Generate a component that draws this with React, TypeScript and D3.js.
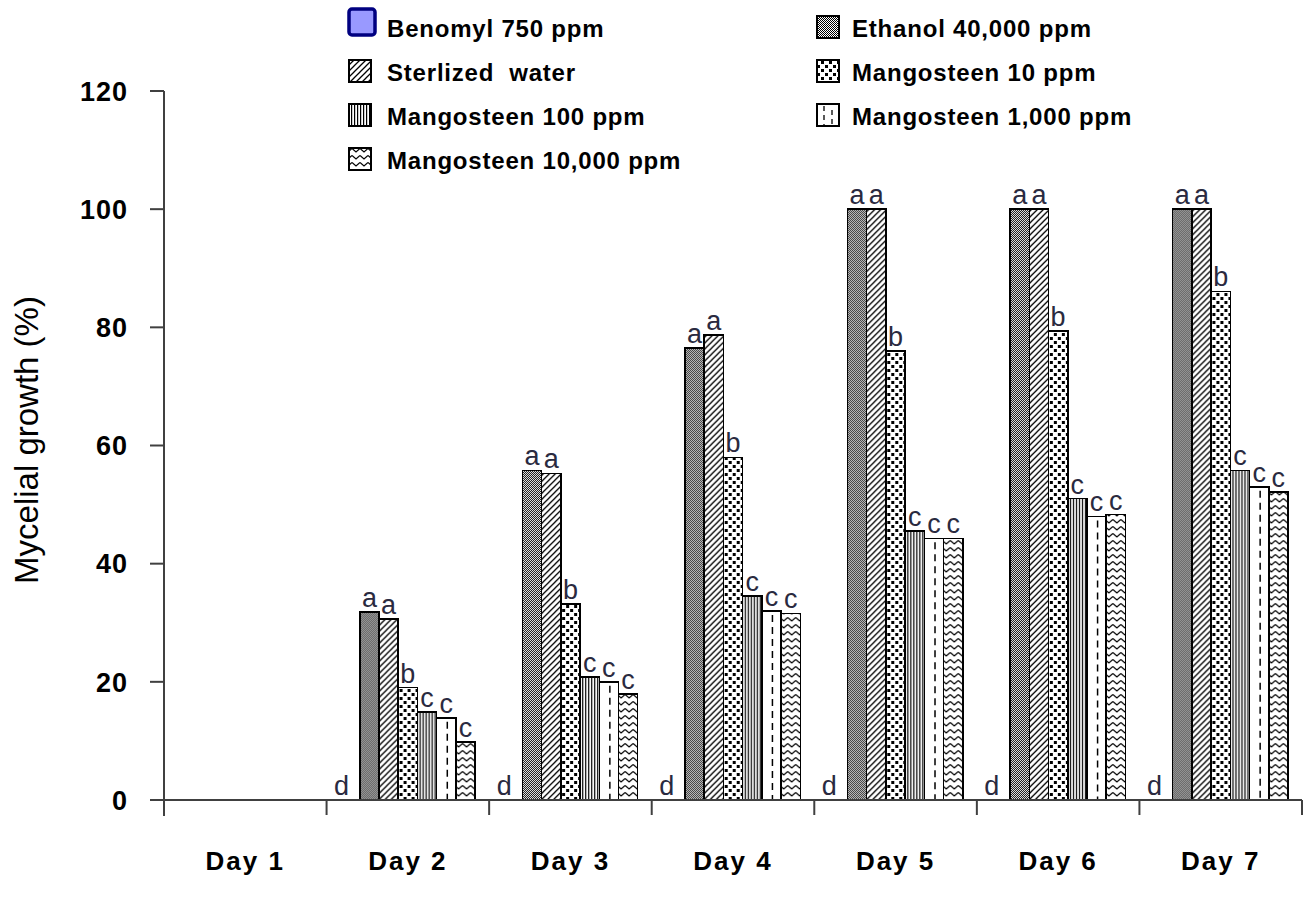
import React from "react";
import * as d3 from "d3";

// categories + series
const days = ["Day 1", "Day 2", "Day 3", "Day 4", "Day 5", "Day 6", "Day 7"];
const seriesNames = [
  "Benomyl 750 ppm",
  "Ethanol 40,000 ppm",
  "Sterlized  water",
  "Mangosteen 10 ppm",
  "Mangosteen 100 ppm",
  "Mangosteen 1,000 ppm",
  "Mangosteen 10,000 ppm",
];
const benomyl = [0, 0, 0, 0, 0, 0, 0];
const ethanol = [0, 31.8, 55.8, 76.5, 100, 100, 100];
const water = [0, 30.6, 55.3, 78.7, 100, 100, 100];
const mango10 = [0, 19.0, 33.2, 58.0, 76.0, 79.4, 86.1];
const mango100 = [0, 14.9, 20.8, 34.5, 45.5, 51.0, 55.8];
const mango1000 = [0, 13.9, 20.0, 32.0, 44.3, 48.0, 53.0];
const mango10000 = [0, 9.8, 17.9, 31.6, 44.3, 48.3, 52.1];
const letters = ["d", "a", "a", "b", "c", "c", "c"];
const yTicks = [0, 20, 40, 60, 80, 100, 120];

const seriesValues = [benomyl, ethanol, water, mango10, mango100, mango1000, mango10000];
const fills = ["#9999ff", "url(#pEth)", "url(#pWater)", "url(#pM10)", "url(#pM100)", "#fff", "url(#pM10000)"];

const W = 1308;
const H = 905;
const left = 164;
const right = 1302;
const top = 91;
const bottom = 800;

const axisColor = "#404040";
const letterColor = "#2a2a40";

export default function App() {
  const x = d3.scaleBand<string>().domain(days).range([left, right]).padding(0);
  const x1 = d3
    .scaleBand<number>()
    .domain(d3.range(seriesNames.length))
    .range([0, x.bandwidth()])
    .paddingInner(0)
    .paddingOuter(0.73);
  const y = d3.scaleLinear().domain([0, 120]).range([bottom, top]);
  const bw = x1.bandwidth();

  // legend layout: two columns
  const legendRows = [
    { s: 0, col: 0, row: 0 },
    { s: 1, col: 1, row: 0 },
    { s: 2, col: 0, row: 1 },
    { s: 3, col: 1, row: 1 },
    { s: 4, col: 0, row: 2 },
    { s: 5, col: 1, row: 2 },
    { s: 6, col: 0, row: 3 },
  ];
  const colX = [349, 817];

  return (
    <svg width={W} height={H} style={{ display: "block", position: "absolute", left: 0, top: 0, background: "#fff" }}>
      <defs>
        <pattern id="pEth" width={2} height={2} patternUnits="userSpaceOnUse">
          <rect width={2} height={2} fill="#fff" />
          <rect x={0} y={0} width={1} height={1} fill="#000" />
          <rect x={1} y={1} width={1} height={1} fill="#000" />
        </pattern>
        <pattern id="pWater" width={6} height={6} patternUnits="userSpaceOnUse">
          <rect width={6} height={6} fill="#fff" />
          <path d="M0,6 L6,0 M-1,1 L1,-1 M5,7 L7,5" stroke="#000" strokeWidth={1.3} />
        </pattern>
        <pattern id="pM10" width={8} height={8} patternUnits="userSpaceOnUse">
          <rect width={8} height={8} fill="#fff" />
          <rect x={1} y={1} width={3} height={3} fill="#000" />
          <rect x={5} y={5} width={3} height={3} fill="#000" />
        </pattern>
        <pattern id="pM100" width={3} height={4} patternUnits="userSpaceOnUse">
          <rect width={3} height={4} fill="#fff" />
          <rect x={0} y={0} width={1.2} height={4} fill="#000" />
        </pattern>
        <pattern id="pM10000" width={8} height={7} patternUnits="userSpaceOnUse">
          <rect width={8} height={7} fill="#fff" />
          <path d="M0,1.5 L4,5 L8,1.5" stroke="#000" strokeWidth={1.2} fill="none" />
        </pattern>
      </defs>

      {/* bars */}
      {days.map((day, di) => (
        <g key={day} transform={`translate(${x(day)},0)`}>
          {seriesValues.map((vals, si) => {
            const v = vals[di];
            if (v <= 0) return null;
            const bx = x1(si) as number;
            return (
              <g key={si}>
                <rect
                  x={bx}
                  y={y(v)}
                  width={bw}
                  height={y(0) - y(v)}
                  fill={fills[si]}
                  stroke="#000"
                  strokeWidth={1.5}
                  shapeRendering="crispEdges"
                />
                {si === 5 && (
                  <line
                    x1={bx + bw / 2 + 1}
                    x2={bx + bw / 2 + 1}
                    y1={y(v) + 4}
                    y2={y(0)}
                    stroke="#000"
                    strokeWidth={1.5}
                    strokeDasharray="7,5"
                  />
                )}
              </g>
            );
          })}
          {di > 0 &&
            seriesValues.map((vals, si) => {
              const v = vals[di];
              const bx = x1(si) as number;
              const cx = si === 0 ? bx + 1 : bx + bw / 2;
              return (
                <text
                  key={"l" + si}
                  x={cx}
                  y={y(v) - 5}
                  textAnchor="middle"
                  fontFamily="'Liberation Sans', Arial, sans-serif"
                  fontSize={27}
                  fill={letterColor}
                >
                  {letters[si]}
                </text>
              );
            })}
        </g>
      ))}

      {/* y axis */}
      <line x1={left} x2={left} y1={top} y2={bottom + 16} stroke={axisColor} strokeWidth={2} />
      {yTicks.map((t) => (
        <g key={t}>
          <line x1={left - 14} x2={left} y1={y(t)} y2={y(t)} stroke={axisColor} strokeWidth={2} />
          <text
            x={128}
            y={y(t)}
            dy="0.36em"
            textAnchor="end"
            fontFamily="'Liberation Sans', Arial, sans-serif"
            fontWeight="bold"
            fontSize={27}
            letterSpacing={1}
            fill="#000"
          >
            {t}
          </text>
        </g>
      ))}

      {/* x axis */}
      <line x1={left - 14} x2={right} y1={bottom} y2={bottom} stroke={axisColor} strokeWidth={2} />
      {days.map((day, i) => (
        <g key={day}>
          {i > 0 && (
            <line
              x1={x(day) as number}
              x2={x(day) as number}
              y1={bottom}
              y2={bottom + 15}
              stroke={axisColor}
              strokeWidth={2}
            />
          )}
          <text
            x={(x(day) as number) + x.bandwidth() / 2}
            y={870}
            textAnchor="middle"
            fontFamily="'Liberation Sans', Arial, sans-serif"
            fontWeight="bold"
            fontSize={26}
            letterSpacing={2}
            fill="#000"
          >
            {day}
          </text>
        </g>
      ))}
      <line x1={right} x2={right} y1={bottom} y2={bottom + 15} stroke={axisColor} strokeWidth={2} />

      {/* y title */}
      <text
        transform={`translate(38,440) rotate(-90)`}
        textAnchor="middle"
        fontFamily="'Liberation Sans', Arial, sans-serif"
        fontSize={33}
        fill="#000"
      >
        Mycelial growth (%)
      </text>

      {/* legend */}
      {legendRows.map(({ s, col, row }) => {
        const base = 37 + row * 44;
        const sx = colX[col];
        return (
          <g key={s}>
            {s === 0 ? (
              <rect x={sx} y={base - 28} width={26} height={26} rx={3} fill="#9999ff" stroke="#000080" strokeWidth={3.5} />
            ) : (
              <g>
                <rect x={sx} y={base - 21} width={22} height={22} fill={fills[s]} stroke="#000" strokeWidth={1.2} shapeRendering="crispEdges" />
                {s === 5 && (
                  <>
                    <line x1={sx + 7} x2={sx + 7} y1={base - 19} y2={base} stroke="#000" strokeWidth={1.3} strokeDasharray="5,4" />
                    <line x1={sx + 15} x2={sx + 15} y1={base - 15} y2={base} stroke="#000" strokeWidth={1.3} strokeDasharray="5,4" />
                  </>
                )}
              </g>
            )}
            <text
              x={col === 0 ? 387 : 852}
              y={base}
              fontFamily="'Liberation Sans', Arial, sans-serif"
              fontWeight="bold"
              fontSize={24}
              letterSpacing={0.8}
              fill="#000"
              style={{ whiteSpace: "pre" }}
            >
              {seriesNames[s]}
            </text>
          </g>
        );
      })}
    </svg>
  );
}
